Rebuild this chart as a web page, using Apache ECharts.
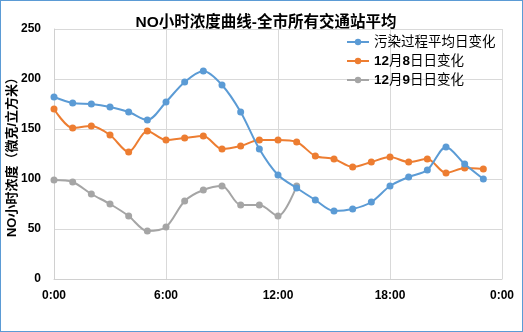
<!DOCTYPE html>
<html>
<head>
<meta charset="utf-8">
<script src="https://cdn.jsdelivr.net/npm/echarts@6/dist/echarts.min.js"></script>
<style>
  html, body { margin: 0; padding: 0; background: #fff; }
  #wrap { position: relative; width: 523px; height: 332px; }
  #chart { width: 523px; height: 332px; }
  #frame { position: absolute; left: 0; top: 0; width: 523px; height: 332px; box-sizing: border-box;
           border: 1px solid #5b9bd5; pointer-events: none; }
</style>
</head>
<body>
<div id="wrap"><div id="chart"></div><div id="frame"></div></div>
<script>
// Hour of day for each reading
const hours = [0,1,2,3,4,5,6,7,8,9,10,11,12,13,14,15,16,17,18,19,20,21,22,23];
const seriesNames = ['污染过程平均日变化', '12月8日日变化', '12月9日日变化'];
// Hourly NO concentration (µg/m³)
const avgProcess = [182,176,175,172,167,159,177,197,208,194,167,130,104,91,79,68,70,77,93,102,109,132,115,100];
const dec8 = [170,151,153,144,127,148,139,141,143,130,133,139,139,137,123,120,112,117,122,117,120,106,111,110];
const dec9 = [99,97,85,75,63,48,52,78,89,93,74,74,63,93];
const yTicks = [0,50,100,150,200,250];
const xTickHours = [0,6,12,18,24];

const colors = ['#5b9bd5', '#ed7d31', '#a5a5a5'];
const font = '"Liberation Sans", "Noto Sans CJK SC", sans-serif';

function pairs(vals) { return vals.map((v, i) => [hours[i], v]); }

const chart = echarts.init(document.getElementById('chart'), null, { renderer: 'canvas' });
chart.setOption({
  animation: false,
  backgroundColor: '#fff',
  color: colors,
  title: {
    text: 'NO小时浓度曲线-全市所有交通站平均',
    left: 261, top: 10, textAlign: 'center',
    textStyle: { fontFamily: font, fontSize: 15.5, fontWeight: 'bold', color: '#000' }
  },
  legend: {
    orient: 'vertical', left: 341, top: 30,
    itemWidth: 22, itemHeight: 8, itemGap: 5,
    data: seriesNames,
    formatter: name => name.replace(/(\d+)/g, '{b|$1}'),
    textStyle: {
      fontFamily: font, fontSize: 13.5, color: '#000', lineHeight: 14,
      rich: { b: { fontWeight: 'bold', fontSize: 13.5, fontFamily: font, color: '#000' } }
    }
  },
  grid: { left: 54, right: 21, top: 29, bottom: 53, containLabel: false, outerBoundsMode: 'none' },
  xAxis: {
    type: 'value', min: 0, max: 24, interval: 6,
    axisLine: { show: true, lineStyle: { color: '#d0d0d0', width: 1 } },
    axisTick: { show: false },
    splitLine: { show: true, lineStyle: { color: '#d9d9d9', width: 1 } },
    axisLabel: {
      margin: 11, color: '#000', fontFamily: font, fontSize: 12, fontWeight: 'bold',
      formatter: v => (xTickHours.includes(v) ? (v % 24) + ':00' : '')
    }
  },
  yAxis: {
    type: 'value', min: 0, max: 250, interval: 50,
    name: 'NO小时浓度（微克/立方米）',
    nameLocation: 'middle', nameGap: 35, nameRotate: 90, nameMoveOverlap: false,
    nameTextStyle: { fontFamily: font, fontSize: 13, fontWeight: 'bold', color: '#000' },
    axisLine: { show: true, lineStyle: { color: '#d0d0d0', width: 1 } },
    axisTick: { show: false },
    splitLine: { show: true, lineStyle: { color: '#d9d9d9', width: 1 } },
    axisLabel: {
      margin: 13, color: '#000', fontFamily: font, fontSize: 12, fontWeight: 'bold',
      formatter: v => (yTicks.includes(v) ? String(v) : '')
    }
  },
  series: [avgProcess, dec8, dec9].map((vals, i) => ({
    name: seriesNames[i],
    type: 'line',
    data: pairs(vals),
    smooth: 0.3,
    symbol: 'circle',
    symbolSize: 7,
    lineStyle: { width: 2, color: colors[i] },
    itemStyle: { color: colors[i] },
    z: 3 - i
  }))
});
</script>
</body>
</html>
